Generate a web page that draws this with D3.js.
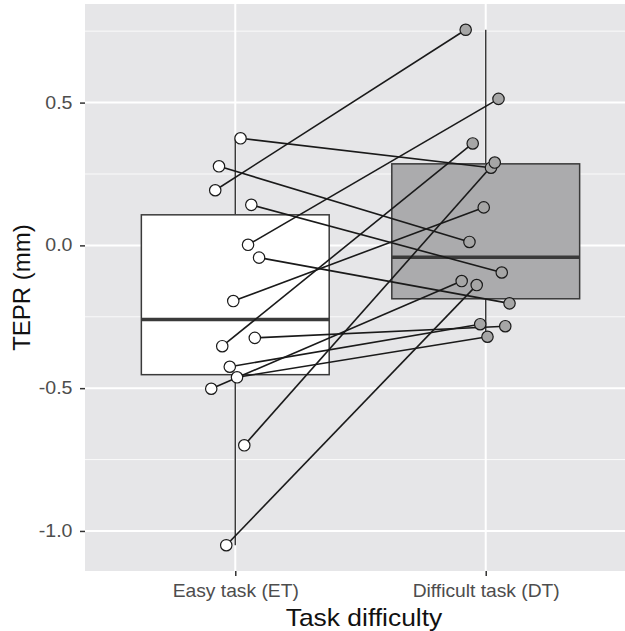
<!DOCTYPE html>
<html>
<head>
<meta charset="utf-8">
<script src="https://cdn.jsdelivr.net/npm/d3@7"></script>
<style>
  body { margin: 0; background: #fff; }
  text { font-family: "Liberation Sans", Arial, sans-serif; }
  .wide { transform-box: fill-box; transform-origin: center; transform: scaleX(1.1); }
  .wide-r { transform-box: fill-box; transform-origin: right center; transform: scaleX(1.12); }
</style>
</head>
<body>
<div id="chart"></div>
<script>
// one entry per participant
const categories = ["Easy task (ET)", "Difficult task (DT)"];
const easyTask = [0.375, 0.277, 0.193, 0.142, 0.002, -0.043, -0.195, -0.353, -0.324, -0.425, -0.462, -0.502, -1.050, -0.700];
const difficultTask = [0.272, 0.012, 0.755, -0.095, 0.513, -0.203, 0.133, 0.357, -0.283, -0.276, -0.320, -0.125, -0.139, 0.290];
// horizontal jitter (in category units), same for both conditions of a participant
const jitter = [0.021, -0.065, -0.080, 0.064, 0.051, 0.095, -0.008, -0.052, 0.078, -0.022, 0.007, -0.096, -0.036, 0.036];
const yTicks = [-1.0, -0.5, 0.0, 0.5];
const yMinor = [-0.75, -0.25, 0.25, 0.75];

const width = 625;
const height = 631;
const marginTop = 4;
const marginBottom = 60;
const marginLeft = 85;
const panelRight = 636; // panel runs past the right edge

const series = [easyTask, difficultTask];
const fills = ["#ffffff", "#ababad"];
const pointFills = ["#ffffff", "#a6a6a6"];

const x = d3.scaleLinear()
    .domain([0.4, 2.6])
    .range([marginLeft, panelRight]);

const all = easyTask.concat(difficultTask);
const lo = d3.min(all), hi = d3.max(all);
const pad = (hi - lo) * 0.05;
const y = d3.scaleLinear()
    .domain([lo - pad, hi + pad])
    .range([height - marginBottom, marginTop]);

const svg = d3.select("#chart")
    .append("svg")
    .attr("width", width)
    .attr("height", height);

// panel
svg.append("rect")
    .attr("x", marginLeft)
    .attr("y", marginTop)
    .attr("width", panelRight - marginLeft)
    .attr("height", height - marginBottom - marginTop)
    .attr("fill", "#e6e6e8");

svg.append("g")
    .selectAll("line")
    .data(yMinor)
    .join("line")
    .attr("x1", marginLeft).attr("x2", panelRight)
    .attr("y1", d => y(d)).attr("y2", d => y(d))
    .attr("stroke", "#fafafa").attr("stroke-width", 1);

svg.append("g")
    .selectAll("line")
    .data(yTicks)
    .join("line")
    .attr("x1", marginLeft).attr("x2", panelRight)
    .attr("y1", d => y(d)).attr("y2", d => y(d))
    .attr("stroke", "#ffffff").attr("stroke-width", 2);

svg.append("g")
    .selectAll("line")
    .data(categories)
    .join("line")
    .attr("x1", (d, i) => x(i + 1)).attr("x2", (d, i) => x(i + 1))
    .attr("y1", marginTop).attr("y2", height - marginBottom)
    .attr("stroke", "#ffffff").attr("stroke-width", 2);

// boxplots
const boxW = 0.75;
series.forEach((vals, i) => {
    const s = vals.slice().sort(d3.ascending);
    const q1 = d3.quantile(s, 0.25), med = d3.quantile(s, 0.5), q3 = d3.quantile(s, 0.75);
    const iqr = q3 - q1;
    const wLo = d3.min(s.filter(v => v >= q1 - 1.5 * iqr));
    const wHi = d3.max(s.filter(v => v <= q3 + 1.5 * iqr));
    const g = svg.append("g");
    const cx = x(i + 1);
    g.append("line").attr("x1", cx).attr("x2", cx).attr("y1", y(wHi)).attr("y2", y(q3))
        .attr("stroke", "#3a3a3a").attr("stroke-width", 1.5);
    g.append("line").attr("x1", cx).attr("x2", cx).attr("y1", y(q1)).attr("y2", y(wLo))
        .attr("stroke", "#3a3a3a").attr("stroke-width", 1.5);
    g.append("rect")
        .attr("x", x(i + 1 - boxW / 2))
        .attr("y", y(q3))
        .attr("width", x(i + 1 + boxW / 2) - x(i + 1 - boxW / 2))
        .attr("height", y(q1) - y(q3))
        .attr("fill", fills[i])
        .attr("stroke", "#3a3a3a").attr("stroke-width", 1.5);
    g.append("line")
        .attr("x1", x(i + 1 - boxW / 2)).attr("x2", x(i + 1 + boxW / 2))
        .attr("y1", y(med)).attr("y2", y(med))
        .attr("stroke", "#3a3a3a").attr("stroke-width", 3.5);
});

// paired lines
svg.append("g")
    .selectAll("line")
    .data(easyTask)
    .join("line")
    .attr("x1", (d, i) => x(1 + jitter[i]))
    .attr("y1", d => y(d))
    .attr("x2", (d, i) => x(2 + jitter[i]))
    .attr("y2", (d, i) => y(difficultTask[i]))
    .attr("stroke", "#1a1a1a")
    .attr("stroke-width", 1.6);

// points
series.forEach((vals, k) => {
    svg.append("g")
        .selectAll("circle")
        .data(vals)
        .join("circle")
        .attr("cx", (d, i) => x(k + 1 + jitter[i]))
        .attr("cy", d => y(d))
        .attr("r", 5.7)
        .attr("fill", pointFills[k])
        .attr("stroke", "#1a1a1a")
        .attr("stroke-width", 1.2);
});

// axes
const yAxis = svg.append("g")
    .attr("transform", `translate(${marginLeft},0)`)
    .call(d3.axisLeft(y).tickValues(yTicks).tickFormat(d3.format(".1f")).tickSize(5).tickPadding(7.5));
yAxis.select(".domain").remove();
yAxis.selectAll(".tick line").attr("stroke", "#333").attr("stroke-width", 1.5);
yAxis.selectAll(".tick text").attr("fill", "#4d4d4d").style("font-size", "17.5px")
    .attr("class", "wide-r")
    .text(d => d3.format(".1f")(d).replace("−", "-"));

const xAxis = svg.append("g")
    .attr("transform", `translate(0,${height - marginBottom})`)
    .call(d3.axisBottom(x).tickValues([1, 2]).tickFormat(d => categories[d - 1]).tickSize(5).tickPadding(9));
xAxis.select(".domain").remove();
xAxis.selectAll(".tick line").attr("stroke", "#333").attr("stroke-width", 1.5);
xAxis.selectAll(".tick text").attr("fill", "#4d4d4d").style("font-size", "17.5px")
    .attr("class", "wide");

svg.append("text")
    .attr("class", "wide")
    .attr("x", 364)
    .attr("y", 626)
    .attr("text-anchor", "middle")
    .attr("fill", "#111")
    .style("font-size", "24px")
    .text("Task difficulty");

svg.append("text")
    .attr("transform", `translate(30,${(marginTop + height - marginBottom) / 2}) rotate(-90)`)
    .attr("text-anchor", "middle")
    .attr("fill", "#111")
    .style("font-size", "24px")
    .text("TEPR (mm)");
</script>
</body>
</html>
